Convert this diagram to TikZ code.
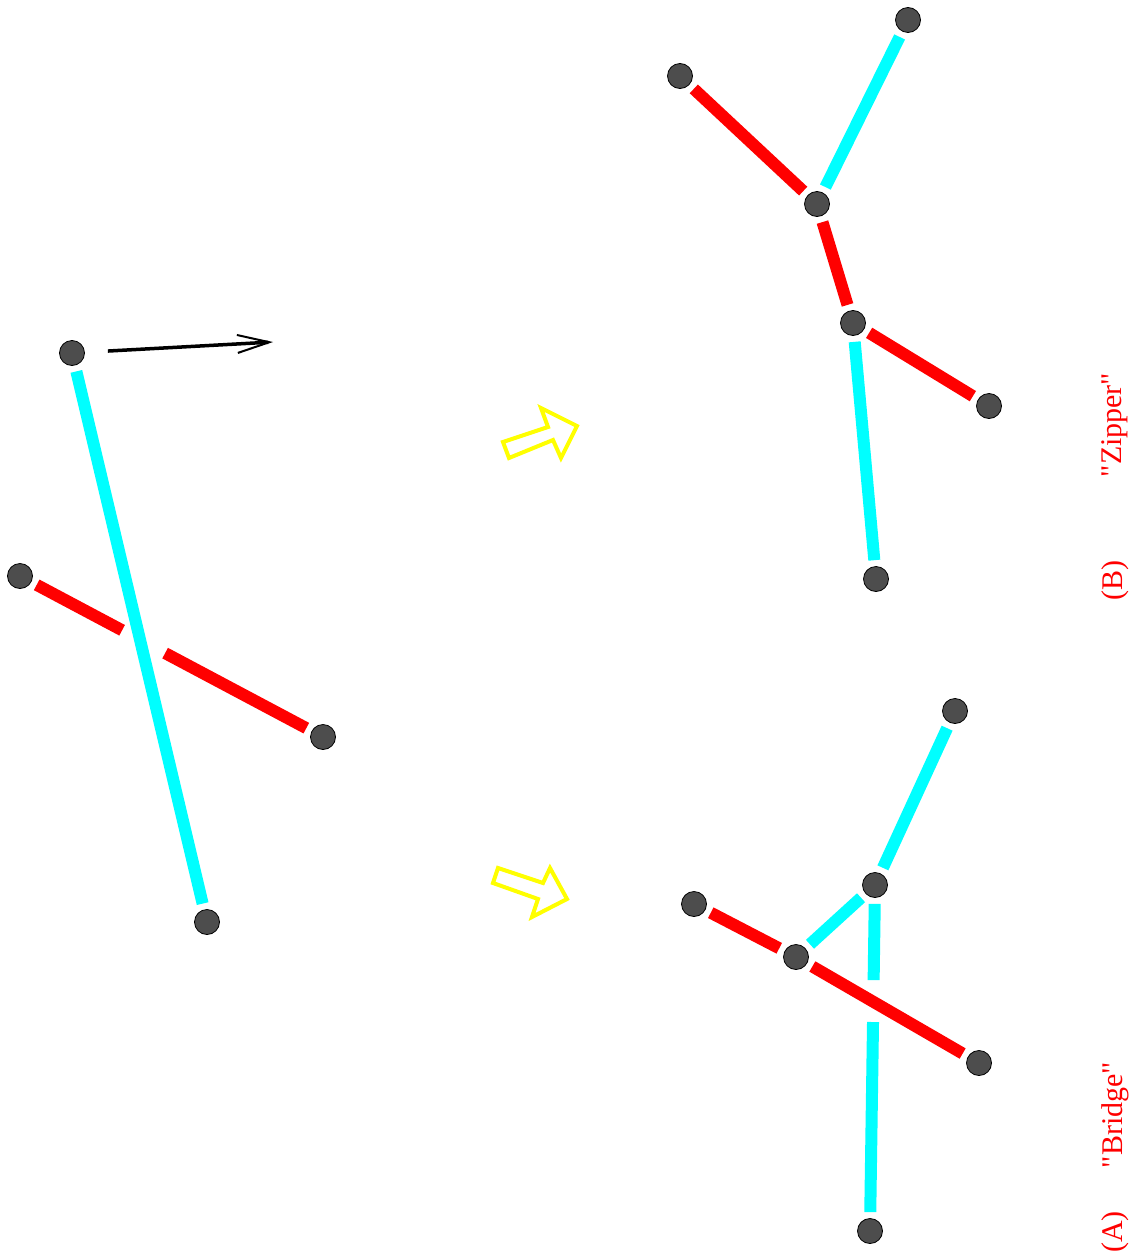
\documentclass[tikz,border=0pt]{standalone}
\usepackage{fontspec}
\setmainfont{Liberation Serif}[Ligatures=TeXOff]
\usetikzlibrary{arrows.meta,calc}
\definecolor{dotgray}{HTML}{4D4D4D}
\definecolor{cy}{HTML}{00FFFF}
\definecolor{rd}{HTML}{FF0000}
\definecolor{yl}{HTML}{FFFF00}
\tikzset{
  dot/.style={circle,fill=dotgray,draw=black,line width=0.8pt,minimum size=25pt,inner sep=0pt},
  cyanbar/.style={cy,line width=12pt,shorten <=6pt,shorten >=6pt},
  redbar/.style={rd,line width=12pt,shorten <=6pt,shorten >=6pt},
  hollowarrow/.style={yl,line width=4pt,line join=miter},
  lbl/.style={rd,rotate=90,font=\fontsize{30}{32}\selectfont,inner sep=0pt}
}
\begin{document}
\begin{tikzpicture}[x=1pt,y=-1pt]
\useasboundingbox (0,0) rectangle (1138,1258);
% left configuration
\node[dot] (a1) at (72,353) {};
\node[dot] (a2) at (20,576) {};
\node[dot] (a3) at (323,737) {};
\node[dot] (a4) at (207,922) {};
\coordinate (rx1) at ($(a2)!0.337!(a3)$);
\coordinate (rx2) at ($(a2)!0.479!(a3)$);
\coordinate (mv) at (273,342);
\draw[cyanbar] (a1) -- (a4);
\draw[redbar,shorten >=0pt] (a2) -- (rx1);
\draw[redbar,shorten <=0pt] (rx2) -- (a3);
\draw[black,line width=3.5pt,shorten <=23pt,-{Straight Barb[length=32pt,width=18pt,line width=2pt]}] (a1) -- (mv);
% hollow arrows
\draw[hollowarrow] (503,442) -- (548,427) -- (541,408) -- (577,426) -- (561,458) -- (553,440) -- (509,458) -- cycle;
\draw[hollowarrow] (498,868) -- (543,883) -- (550,868) -- (567,899) -- (532,917) -- (538,899) -- (493,883) -- cycle;
% zipper
\node[dot] (b1) at (908,20) {};
\node[dot] (b2) at (680,76) {};
\node[dot] (b3) at (817,204) {};
\node[dot] (b4) at (853,323) {};
\node[dot] (b5) at (989,406) {};
\node[dot] (b6) at (876,579) {};
\draw[cyanbar] (b1) -- (b3);
\draw[redbar] (b2) -- (b3);
\draw[redbar] (b3) -- (b4);
\draw[redbar] (b4) -- (b5);
\draw[cyanbar] (b4) -- (b6);
% bridge
\node[dot] (c1) at (955,711) {};
\node[dot] (c2) at (875,885) {};
\node[dot] (c3) at (694,904) {};
\node[dot] (c4) at (796,957) {};
\node[dot] (c5) at (979,1063) {};
\node[dot] (c6) at (870,1231) {};
\coordinate (cx1) at ($(c2)!0.275!(c6)$);
\coordinate (cx2) at ($(c2)!0.396!(c6)$);
\draw[cyanbar] (c1) -- (c2);
\draw[cyanbar] (c2) -- (c4);
\draw[cyanbar,shorten >=0pt] (c2) -- (cx1);
\draw[cyanbar,shorten <=0pt] (cx2) -- (c6);
\draw[redbar] (c3) -- (c4);
\draw[redbar] (c4) -- (c5);
% labels
\node[lbl] (la) at (1115,1232) {(A)};
\node[lbl] (lbridge) at (1115,1115) {"Bridge"};
\node[lbl] (lb) at (1115,580) {(B)};
\node[lbl] (lzipper) at (1115,425) {"Zipper"};
\end{tikzpicture}
\end{document}
